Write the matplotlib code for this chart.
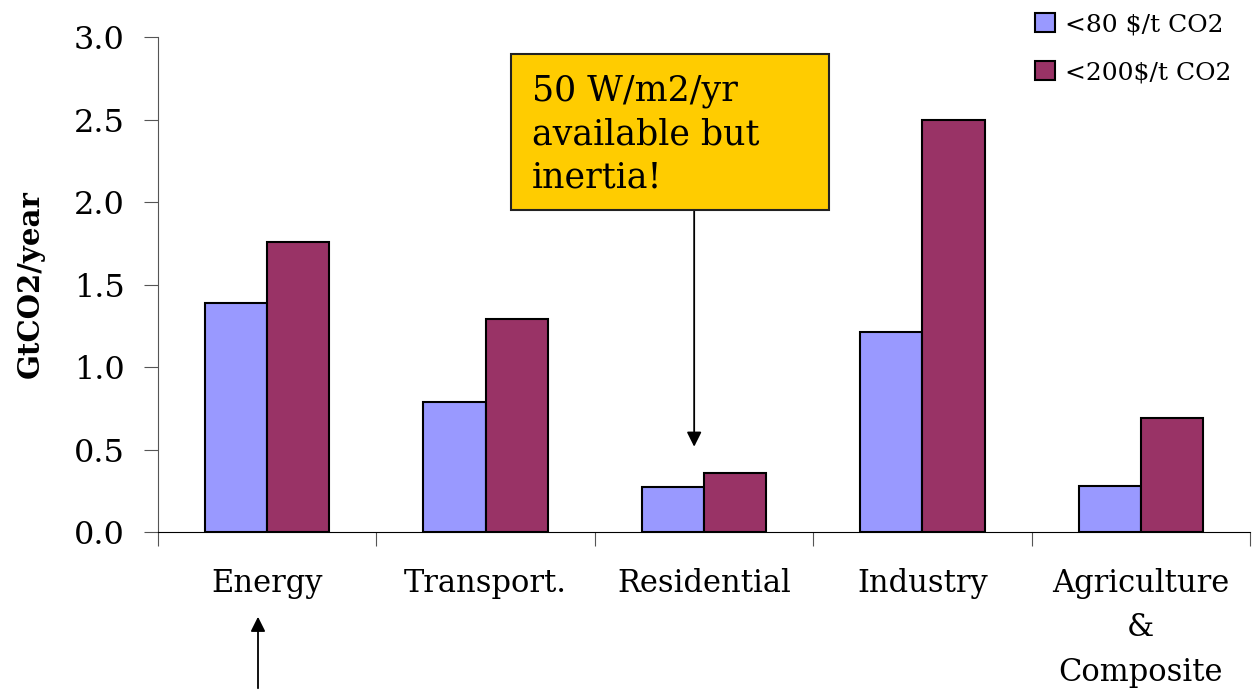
import matplotlib
matplotlib.use("Agg")
import matplotlib.pyplot as plt
from matplotlib.patches import Rectangle
import numpy as np

plt.rcParams['font.family'] = ['DejaVu Serif']

sectors = ['Energy', 'Transport.', 'Residential', 'Industry', 'Agriculture\n&\nComposite']
low = [1.39, 0.79, 0.27, 1.21, 0.28]
high = [1.76, 1.29, 0.36, 2.50, 0.69]
series = ['<80 $/t CO2', '<200$/t CO2']
yticks = [0.0, 0.5, 1.0, 1.5, 2.0, 2.5, 3.0]

fig = plt.figure(figsize=(12.53, 6.91), dpi=100)
ax = fig.add_axes([158/1253., 159/691., 1092/1253., 495/691.])

x = np.arange(len(sectors))
w = 0.285
ax.bar(x - w/2, low, w, color='#9999ff', edgecolor='black', linewidth=1.5, label=series[0])
ax.bar(x + w/2, high, w, color='#993366', edgecolor='black', linewidth=1.5, label=series[1])

ax.set_xlim(-0.5, len(sectors) - 0.5)
ax.set_ylim(0, 3.0)
ax.set_yticks(yticks)
ax.set_yticklabels(['%.1f' % v for v in yticks], fontsize=23)
ax.set_xticks(np.arange(len(sectors) + 1) - 0.5)
ax.set_xticklabels([])
ax.set_xticks(x, minor=True)
ax.set_xticklabels(sectors, minor=True, fontsize=22, linespacing=1.55, va='top')
ax.tick_params(axis='x', which='minor', length=0, pad=26)
ax.tick_params(axis='x', which='major', length=10, color='#555555')
ax.tick_params(axis='y', length=10, color='#555555', pad=14)
ax.spines['top'].set_visible(False)
ax.spines['right'].set_visible(False)
ax.spines['left'].set_color('#555555')
ax.set_ylabel('GtCO2/year', fontsize=21, fontweight='bold')
ax.yaxis.set_label_coords(-0.104, 0.5)

leg = fig.legend(loc='upper right', bbox_to_anchor=(0.995, 1.003), frameon=False,
                 fontsize=18, handlelength=0.8, handleheight=0.8, handletextpad=0.4,
                 labelspacing=1.0, borderaxespad=0.2)

# callout box with arrow to Residential
ax.annotate('', xy=(1.955, 0.5), xytext=(1.955, 1.97),
            arrowprops=dict(arrowstyle='-|>', color='black', lw=1.3, mutation_scale=22))
fig.add_artist(Rectangle((511/1253., 1 - 210/691.), 318/1253., 156/691.,
                         transform=fig.transFigure, facecolor='#ffcc00',
                         edgecolor='#222222', linewidth=1.5, zorder=3))
fig.text(532/1253., 1 - 74/691., '50 W/m2/yr\navailable but\ninertia!', fontsize=25,
         va='top', ha='left', linespacing=1.35, zorder=4)

# arrow under Energy
ax.annotate('', xy=(258/1253., 1 - 614/691.), xytext=(258/1253., 0.0),
            xycoords='figure fraction', textcoords='figure fraction',
            arrowprops=dict(arrowstyle='-|>', color='black', lw=1.3, mutation_scale=22))

fig.savefig('out.png', dpi=100)
